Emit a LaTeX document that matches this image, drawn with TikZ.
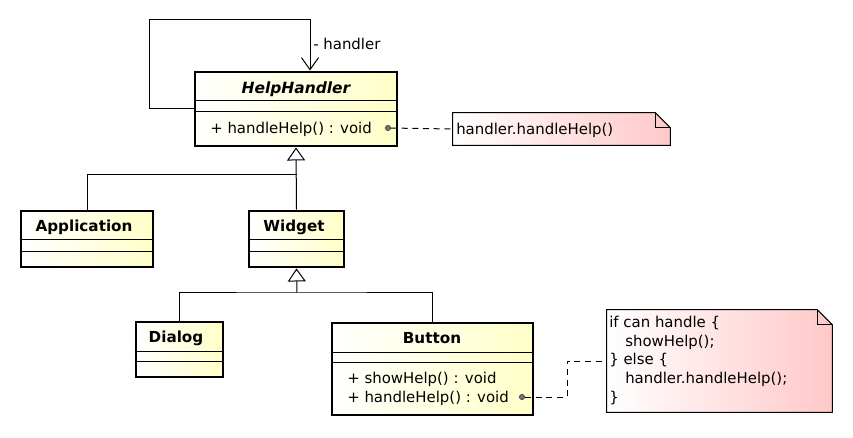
\documentclass[tikz,border=0pt]{standalone}
\usepackage{fontspec}
\setmainfont{DejaVu Sans}
\usetikzlibrary{arrows.meta,calc,fit}
\definecolor{cyel}{HTML}{FFFFC8}
\definecolor{cpink}{HTML}{FFC8C8}
\newcommand\drawnote[1]{%
  \draw[notestyle] (#1.north west) -- ($(#1.north east)+(-15,0)$) -- ($(#1.north east)+(0,15)$) -- (#1.south east) -- (#1.south west) -- cycle;
  \draw[line width=0.75pt] ($(#1.north east)+(-15,0)$) |- ($(#1.north east)+(0,15)$);}
\tikzset{
  cls/.style={draw, line width=2.2pt, left color=white, right color=cyel, rectangle, inner sep=0pt},
  div/.style={line width=0.75pt},
  notebox/.style={rectangle, inner sep=0pt},
  notestyle/.style={line width=0.75pt, draw=black, left color=white, right color=cpink},
  txt/.style={inner sep=0pt, font=\fontsize{11.2pt}{14pt}\selectfont},
  bname/.style={txt, font=\fontsize{11.4pt}{14pt}\selectfont\bfseries},
  dotn/.style={circle, fill=black!55, draw=black!80, line width=0.4pt, inner sep=0pt, minimum size=4pt},
  genline/.style={line width=0.75pt},
  gen/.style={line width=0.75pt, -{Triangle[fill=white, length=9.75pt, width=13.5pt]}},
  assoc/.style={line width=0.75pt, -{Straight Barb[length=9pt, width=12.75pt]}},
  noteline/.style={line width=0.75pt, dash pattern=on 4.5pt off 3.5pt}
}
\begin{document}
\begin{tikzpicture}[x=0.75pt,y=-0.75pt]
\useasboundingbox (0,0) rectangle (853,438);

% HelpHandler
\node[cls, fit={(195,72)(397,146)}] (hh) {};
\draw[div] (hh.west |- 0,101) -- (hh.east |- 0,101);
\draw[div] (hh.west |- 0,112) -- (hh.east |- 0,112);
\node[txt, font=\fontsize{11.6pt}{14pt}\selectfont\bfseries\itshape] (hhname) at (296,89) {HelpHandler};
\node[txt, anchor=west] (hhm) at (210,129) {+ handleHelp() : void};
\node[dotn] (hhdot) at (388,128) {};

% Application
\node[cls, fit={(21,211)(153,267)}] (app) {};
\draw[div] (app.west |- 0,240) -- (app.east |- 0,240);
\draw[div] (app.west |- 0,252) -- (app.east |- 0,252);
\node[bname] (appname) at (84,227) {Application};

% Widget
\node[cls, fit={(249,211)(344,267)}] (wid) {};
\draw[div] (wid.west |- 0,240) -- (wid.east |- 0,240);
\draw[div] (wid.west |- 0,252) -- (wid.east |- 0,252);
\node[bname] (widname) at (294,227) {Widget};

% Dialog
\node[cls, fit={(136,322)(223,377)}] (dlg) {};
\draw[div] (dlg.west |- 0,351) -- (dlg.east |- 0,351);
\draw[div] (dlg.west |- 0,361) -- (dlg.east |- 0,361);
\node[bname] (dlgname) at (176,338) {Dialog};

% Button
\node[cls, fit={(332,323)(533,415)}] (btn) {};
\draw[div] (btn.west |- 0,352) -- (btn.east |- 0,352);
\draw[div] (btn.west |- 0,362) -- (btn.east |- 0,362);
\node[bname] (btnname) at (432,338) {Button};
\node[txt, anchor=west] (btnm1) at (347,379) {+ showHelp() : void};
\node[txt, anchor=west] (btnm2) at (347,398) {+ handleHelp() : void};
\node[dotn] (btndot) at (522,397) {};

% Notes
\node[notebox, fit={(453,113)(670,145)}] (n1) {};
\drawnote{n1}
\node[txt, anchor=west] (n1t) at (456,130) {handler.handleHelp()};

\node[notebox, fit={(607,310)(832,412)}] (n2) {};
\drawnote{n2}
\node[txt, anchor=north west, align=left] (n2t) at (609,316) {if can handle \{\\\hspace*{12pt}showHelp();\\\} else \{\\\hspace*{12pt}handler.handleHelp();\\\}};

% generalizations
\coordinate (j1) at (297,175);
\coordinate (j2) at (297,293);
\draw[genline] (app.north) |- (j1);
\draw[gen] (wid.north) -- (hh.south);
\draw[genline] (dlg.north) |- (j2) -| (btn.north);
\draw[gen] (j2) -- (wid.south);

% self association
\coordinate (c1) at (149,20);
\draw[assoc] (hh.west) -| (c1) -| ($(hh.north)+(14,0)$);
\node[txt, anchor=west] (lbl) at (313,44) {- handler};

% note links
\draw[noteline] (hhdot) -- (n1.west);
\draw[noteline] (btndot) -- (567,397) |- (n2.west);
\end{tikzpicture}
\end{document}
